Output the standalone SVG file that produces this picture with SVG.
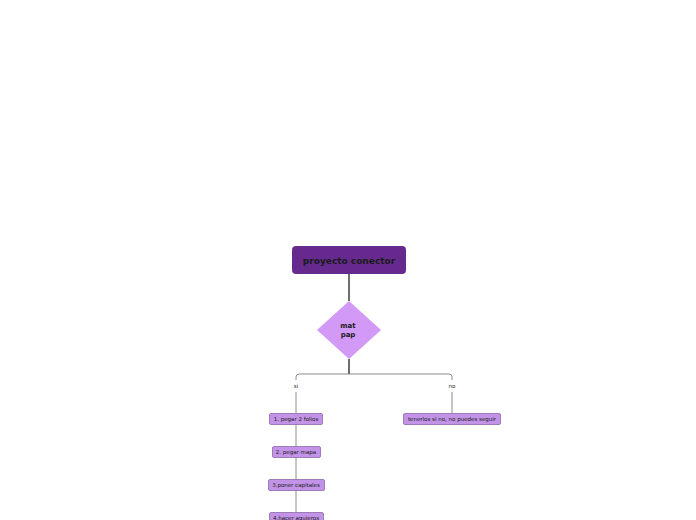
<svg xmlns="http://www.w3.org/2000/svg" width="696" height="520" viewBox="0 0 696 520">
<style>
.t{font-family:"DejaVu Sans","Liberation Sans",sans-serif;fill:#1a1a1a;text-anchor:middle}
.small{fill:#c293e6;stroke:#8c68aa;stroke-width:0.8}
.c{fill:none;stroke:#6e6e6e}
</style>
<rect width="696" height="520" fill="#ffffff"/>
<g id="connectors">
<line class="c" x1="349" y1="274" x2="349" y2="301" stroke-width="2"/>
<line class="c" x1="349" y1="359" x2="349" y2="374" stroke-width="2"/>
<path class="c" stroke-width="0.8" d="M296 380 V377 Q296 374 299 374 H449 Q452 374 452 377 V380"/>
<line class="c" stroke-width="0.8" x1="296" y1="392" x2="296" y2="413"/>
<line class="c" stroke-width="0.8" x1="452" y1="392" x2="452" y2="413"/>
<line class="c" stroke-width="0.8" x1="296" y1="424" x2="296" y2="446"/>
<line class="c" stroke-width="0.8" x1="296" y1="457" x2="296" y2="479"/>
<line class="c" stroke-width="0.8" x1="296" y1="490" x2="296" y2="512"/>
<text class="t" x="296" y="388" font-size="5.5">si</text>
<text class="t" x="452" y="388" font-size="5.5">no</text>
</g>
<g id="title">
<rect x="292" y="246" width="114" height="28" rx="4" fill="#662a8f"/>
<text class="t" x="349" y="264" font-size="9" font-weight="bold">proyecto conector</text>
</g>
<g id="decision">
<polygon points="349,301 381,330 349,359 317,330" fill="#d299f7"/>
<text class="t" x="348" y="328" font-size="7" font-weight="bold">mat</text>
<text class="t" x="348" y="337" font-size="7" font-weight="bold">pap</text>
</g>
<g id="n1">
<rect class="small" x="269.5" y="413.5" width="53" height="11" rx="1.5"/>
<text class="t" x="296" y="421" font-size="5.5">1. pegar 2 folios</text>
</g>
<g id="n2">
<rect class="small" x="272.5" y="446.5" width="48" height="11" rx="1.5"/>
<text class="t" x="296" y="454" font-size="5.5">2. pegar mapa</text>
</g>
<g id="n3">
<rect class="small" x="268.5" y="479.5" width="56" height="11" rx="1.5"/>
<text class="t" x="296" y="487" font-size="5.5">3.poner capitales</text>
</g>
<g id="n4">
<rect class="small" x="269.5" y="512.5" width="54" height="11" rx="1.5"/>
<text class="t" x="296" y="520" font-size="5.5">4.hacer agujeros</text>
</g>
<g id="n5">
<rect class="small" x="403.5" y="413.5" width="97" height="11" rx="1.5"/>
<text class="t" x="452" y="421" font-size="5.5">tenerlos si no, no puedes seguir</text>
</g>
</svg>
